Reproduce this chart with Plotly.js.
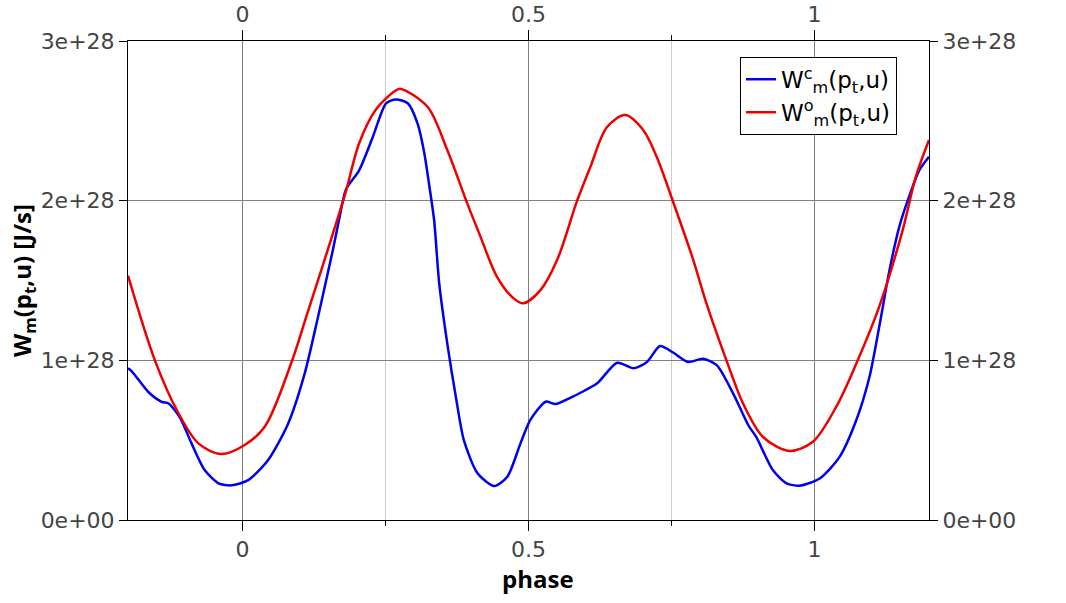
<!DOCTYPE html>
<html>
<head>
<meta charset="utf-8">
<script src="https://cdn.plot.ly/plotly-3.0.1.min.js"></script>
<style>html,body{margin:0;padding:0;background:#fff;}#chart{width:1066px;height:603px;}</style>
</head>
<body>
<div id="chart"></div>
<script>
// Red series: W^o_m(p_t,u)
const phaseO = [-0.2, -0.153, -0.112, -0.077, -0.037, 0.004, 0.039, 0.085, 0.114, 0.149, 0.170, 0.181, 0.204, 0.233, 0.268, 0.277, 0.3235, 0.358, 0.393, 0.416, 0.445, 0.474, 0.491, 0.521, 0.550, 0.585, 0.608, 0.637, 0.669, 0.701, 0.724, 0.753, 0.788, 0.811, 0.846, 0.875, 0.910, 0.956, 0.997, 1.038, 1.073, 1.113, 1.154, 1.177, 1.2];
const valO = [1.53e28, 1.0e28, 0.67e28, 0.48e28, 0.413e28, 0.47e28, 0.584e28, 0.98e28, 1.30e28, 1.69e28, 1.93e28, 2.06e28, 2.36e28, 2.57e28, 2.69e28, 2.70e28, 2.588e28, 2.317e28, 1.983e28, 1.775e28, 1.523e28, 1.388e28, 1.357e28, 1.44e28, 1.628e28, 2.0e28, 2.21e28, 2.46e28, 2.536e28, 2.44e28, 2.275e28, 1.99e28, 1.628e28, 1.357e28, 1.0e28, 0.73e28, 0.52e28, 0.432e28, 0.49e28, 0.71e28, 0.98e28, 1.336e28, 1.816e28, 2.15e28, 2.38e28];
// Blue series: W^c_m(p_t,u)
const phaseC = [-0.2, -0.193, -0.164, -0.141, -0.129, -0.109, -0.089, -0.066, -0.042, -0.019, 0.010, 0.045, 0.080, 0.109, 0.132, 0.158, 0.170, 0.181, 0.204, 0.228, 0.251, 0.268, 0.289, 0.306, 0.318, 0.326, 0.335, 0.344, 0.358, 0.373, 0.387, 0.411, 0.440, 0.463, 0.486, 0.503, 0.530, 0.547, 0.573, 0.591, 0.620, 0.655, 0.684, 0.707, 0.730, 0.753, 0.779, 0.805, 0.829, 0.858, 0.884, 0.898, 0.927, 0.951, 0.974, 1.009, 1.044, 1.073, 1.096, 1.113, 1.131, 1.148, 1.165, 1.183, 1.2];
const valC = [0.95e28, 0.93e28, 0.80e28, 0.74e28, 0.73e28, 0.64e28, 0.48e28, 0.313e28, 0.23e28, 0.217e28, 0.25e28, 0.376e28, 0.605e28, 0.92e28, 1.27e28, 1.69e28, 1.90e28, 2.07e28, 2.19e28, 2.40e28, 2.61e28, 2.634e28, 2.61e28, 2.484e28, 2.296e28, 2.108e28, 1.879e28, 1.48e28, 1.106e28, 0.772e28, 0.50e28, 0.292e28, 0.213e28, 0.271e28, 0.48e28, 0.626e28, 0.741e28, 0.726e28, 0.765e28, 0.797e28, 0.856e28, 0.985e28, 0.95e28, 0.99e28, 1.09e28, 1.048e28, 0.99e28, 1.01e28, 0.97e28, 0.79e28, 0.595e28, 0.52e28, 0.313e28, 0.23e28, 0.215e28, 0.26e28, 0.397e28, 0.626e28, 0.897e28, 1.21e28, 1.565e28, 1.836e28, 2.024e28, 2.19e28, 2.275e28];

const yTickVals = [0, 1e28, 2e28, 3e28];
const yTickText = ['0e+00', '1e+28', '2e+28', '3e+28'];
const xTickVals = [0, 0.5, 1];
const xTickText = ['0', '0.5', '1'];

const TICKFONT = 'DejaVu Sans, sans-serif';
const TITLEFONT = 'Open Sans, DejaVu Sans, sans-serif';
const tickFont = {family: TICKFONT, size: 22, color: '#444'};

const traces = [
  {x: phaseC, y: valC, type: 'scatter', mode: 'lines', line: {color: '#0000ee', width: 2.5, shape: 'spline', smoothing: 0.7},
   name: 'W<sup>c</sup><sub>m</sub>(p<sub>t</sub>,u)'},
  {x: phaseO, y: valO, type: 'scatter', mode: 'lines', line: {color: '#ee0000', width: 2.5, shape: 'spline', smoothing: 0.9},
   name: 'W<sup>o</sup><sub>m</sub>(p<sub>t</sub>,u)'},
  {x: [0], y: [0], xaxis: 'x2', yaxis: 'y2', type: 'scatter', mode: 'none', showlegend: false, hoverinfo: 'skip'}
];

const xBase = {
  range: [-0.2, 1.2], tickvals: xTickVals, ticktext: xTickText,
  ticks: 'outside', ticklen: 10, tickcolor: '#000', tickwidth: 1,
  showline: true, linecolor: '#000', linewidth: 1,
  tickfont: tickFont, zeroline: false
};
const yBase = {
  range: [0, 3e28], tickvals: yTickVals, ticktext: yTickText,
  ticks: 'outside', ticklen: 8, tickcolor: '#000', tickwidth: 1,
  showline: true, linecolor: '#000', linewidth: 1,
  tickfont: tickFont, zeroline: false
};

const layout = {
  width: 1066, height: 603,
  margin: {l: 128, r: 137, t: 41, b: 83},
  paper_bgcolor: '#fff', plot_bgcolor: '#fff',
  font: {family: TITLEFONT, color: '#000'},
  showlegend: true,
  legend: {x: 0.764, y: 0.967, xanchor: 'left', yanchor: 'top', bgcolor: '#fff',
           bordercolor: '#000', borderwidth: 1, font: {family: TICKFONT, size: 23, color: '#000'},
           tracegroupgap: 0},
  xaxis: Object.assign({}, xBase, {
    side: 'bottom', showgrid: true, gridcolor: '#808080', gridwidth: 1,
    minor: {tickvals: [0.25, 0.75], ticks: 'outside', ticklen: 5, tickcolor: '#000', showgrid: true, gridcolor: '#cccccc', gridwidth: 1},
    title: {text: '<b>&nbsp;&nbsp;&nbsp;phase</b>', font: {family: TITLEFONT, size: 24, color: '#000'}, standoff: 4}
  }),
  xaxis2: Object.assign({}, xBase, {
    side: 'top', overlaying: 'x', matches: 'x', showgrid: false, ticklabelstandoff: -1,
    minor: {tickvals: [0.25, 0.75], ticks: 'outside', ticklen: 5, tickcolor: '#000', showgrid: false}
  }),
  yaxis: Object.assign({}, yBase, {
    side: 'left', showgrid: true, gridcolor: '#808080', gridwidth: 1,
    title: {text: '<b>W<sub>m</sub>(p<sub>t</sub>,u) [J/s]</b>', font: {family: TITLEFONT, size: 24, color: '#000'}, standoff: 1}
  }),
  yaxis2: Object.assign({}, yBase, {
    side: 'right', overlaying: 'y', matches: 'y', showgrid: false
  })
};

Plotly.newPlot('chart', traces, layout, {staticPlot: true, displayModeBar: false});
</script>
</body>
</html>
